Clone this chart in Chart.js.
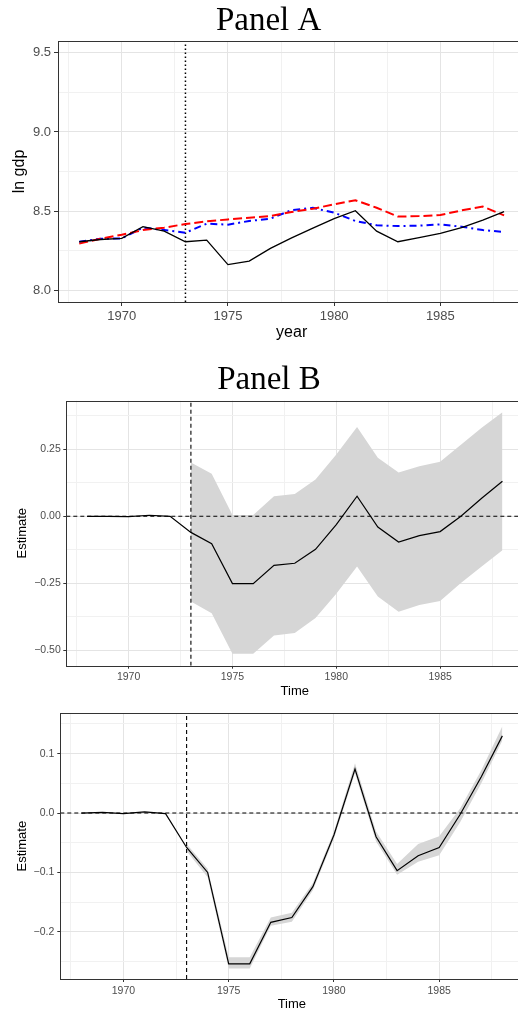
<!DOCTYPE html>
<html>
<head>
<meta charset="utf-8">
<script src="https://cdn.jsdelivr.net/npm/chart.js@4.4.1/dist/chart.umd.min.js"></script>
<style>
    body { margin: 0; background: #fff; width: 518px; height: 1015px; overflow: hidden; position: relative; }
    .panel { position: absolute; left: 0; width: 518px; overflow: hidden; }
    .panel canvas { display: block; }
</style>
</head>
<body>
<div class="panel" style="top:0;height:344px"><canvas id="panelA" width="540" height="344" style="width:540px;height:344px"></canvas></div>
<div class="panel" style="top:350px;height:350px"><canvas id="panelB" width="540" height="350" style="width:540px;height:350px"></canvas></div>
<div class="panel" style="top:700px;height:315px"><canvas id="panelC" width="540" height="315" style="width:540px;height:315px"></canvas></div>
<script>
// --- data ---
const years = [1968, 1969, 1970, 1971, 1972, 1973, 1974, 1975, 1976, 1977, 1978,
               1979, 1980, 1981, 1982, 1983, 1984, 1985, 1986, 1987, 1988];
const treatYear = 1973;

// panel A: ln gdp
const lnGdpActual  = [8.306, 8.320, 8.327, 8.401, 8.373, 8.306, 8.316, 8.161, 8.184, 8.264, 8.330,
                      8.392, 8.452, 8.502, 8.373, 8.306, 8.332, 8.359, 8.395, 8.443, 8.496];
const lnGdpSynthA  = [8.294, 8.325, 8.350, 8.380, 8.395, 8.418, 8.435, 8.447, 8.458, 8.468, 8.494,
                      8.515, 8.542, 8.568, 8.521, 8.465, 8.468, 8.475, 8.504, 8.528, 8.473];
const lnGdpSynthB  = [8.306, 8.325, 8.327, 8.395, 8.380, 8.363, 8.420, 8.414, 8.437, 8.452, 8.506,
                      8.520, 8.490, 8.437, 8.410, 8.405, 8.408, 8.416, 8.401, 8.380, 8.367];

// panel B: estimate with wide band (band from 1973)
const bandYears = [1973, 1974, 1975, 1976, 1977, 1978, 1979, 1980,
                   1981, 1982, 1983, 1984, 1985, 1986, 1987, 1988];
const estimateB = [0.000, 0.000, -0.001, 0.004, 0.000, -0.060, -0.102, -0.251, -0.251, -0.183, -0.175,
                   -0.123, -0.031, 0.075, -0.040, -0.096, -0.072, -0.057, 0.000, 0.067, 0.131];
const upperB = [0.201, 0.159, 0.005, 0.005, 0.075, 0.083, 0.137, 0.230,
                0.333, 0.218, 0.163, 0.187, 0.203, 0.267, 0.330, 0.388];
const lowerB = [-0.318, -0.361, -0.512, -0.512, -0.444, -0.435, -0.379, -0.289,
                -0.187, -0.299, -0.356, -0.331, -0.316, -0.249, -0.187, -0.127];

// panel C: estimate with narrow band
const estimateC = [0.000, 0.001, -0.001, 0.002, -0.001, -0.058, -0.100, -0.254, -0.254, -0.184, -0.176,
                   -0.124, -0.037, 0.074, -0.040, -0.097, -0.072, -0.058, -0.002, 0.061, 0.130];
const upperC = [-0.052, -0.094, -0.243, -0.243, -0.176, -0.168, -0.118, -0.031,
                0.084, -0.031, -0.086, -0.052, -0.039, 0.008, 0.072, 0.146];
const lowerC = [-0.064, -0.108, -0.262, -0.262, -0.190, -0.183, -0.130, -0.043,
                0.067, -0.048, -0.104, -0.082, -0.071, -0.015, 0.050, 0.122];

// ticks
const xMajorTicks = [1970, 1975, 1980, 1985];
const xMinorTicks = [1967.5, 1972.5, 1977.5, 1982.5, 1987.5];
const aMajorTicks = [8.0, 8.5, 9.0, 9.5];
const aTickLabels = ['8.0', '8.5', '9.0', '9.5'];
const aMinorTicks = [8.25, 8.75, 9.25];
const bMajorTicks = [-0.5, -0.25, 0, 0.25];
const bTickLabels = ['\u22120.50', '\u22120.25', '0.00', '0.25'];
const bMinorTicks = [-0.375, -0.125, 0.125, 0.375];
const cMajorTicks = [-0.2, -0.1, 0, 0.1];
const cTickLabels = ['\u22120.2', '\u22120.1', '0.0', '0.1'];
const cMinorTicks = [-0.25, -0.15, -0.05, 0.05, 0.15];

const xRange = [1967, 1989];
const aRange = [7.925, 9.575];
const bRange = [-0.557, 0.431];
const cRange = [-0.2795, 0.168];

const SANS = "'Liberation Sans', Arial, sans-serif";
const SERIF = "'Liberation Serif', 'DejaVu Serif', serif";
const FRAME = '#333333';

function pts(xs, ys) {
    return xs.map((x, i) => ({ x: x, y: ys[i] }));
}

// panel border on top of everything
const framePlugin = {
    id: 'frame',
    afterDraw(chart) {
        const a = chart.chartArea;
        const ctx = chart.ctx;
        ctx.save();
        ctx.strokeStyle = FRAME;
        ctx.lineWidth = 1;
        ctx.strokeRect(Math.round(a.left) + 0.5, Math.round(a.top) + 0.5,
                       Math.round(a.right - a.left), Math.round(a.bottom - a.top));
        ctx.restore();
    }
};

function makeAxis(cfg) {
    const all = cfg.major.concat(cfg.minor).sort((a, b) => a - b);
    const isMajor = v => cfg.major.some(m => Math.abs(m - v) < 1e-9);
    return {
        type: 'linear',
        position: cfg.position,
        min: cfg.range[0],
        max: cfg.range[1],
        afterBuildTicks: s => { s.ticks = all.map(v => ({ value: v })); },
        afterFit: s => {
            if (cfg.position === 'left') s.width = cfg.size; else s.height = cfg.size;
        },
        ticks: {
            autoSkip: false,
            maxRotation: 0,
            padding: cfg.tickPad,
            color: '#4d4d4d',
            font: { family: SANS, size: cfg.tickSize },
            callback: v => {
                const i = cfg.major.findIndex(m => Math.abs(m - v) < 1e-9);
                return i >= 0 ? cfg.labels[i] : '';
            }
        },
        grid: {
            color: ctx => isMajor(ctx.tick.value) ? '#e4e4e4' : '#f1f1f1',
            lineWidth: 1,
            tickColor: ctx => isMajor(ctx.tick.value) ? FRAME : 'rgba(0,0,0,0)',
            tickLength: cfg.tickLen,
            tickWidth: 1
        },
        border: { display: false },
        title: {
            display: true,
            text: cfg.title,
            color: '#000',
            font: { family: SANS, size: cfg.titleSize, lineHeight: cfg.titleLH || 1.2 },
            padding: cfg.titlePad
        }
    };
}

function refLines(yRange, dash, width) {
    return [
        {
            data: [{ x: treatYear, y: yRange[0] }, { x: treatYear, y: yRange[1] }],
            borderColor: '#000', borderWidth: width, borderDash: dash,
            pointRadius: 0, fill: false, order: 2
        },
        {
            data: [{ x: xRange[0], y: 0 }, { x: xRange[1], y: 0 }],
            borderColor: '#000', borderWidth: width, borderDash: dash,
            pointRadius: 0, fill: false, order: 2
        }
    ];
}

// Panel A
new Chart(document.getElementById('panelA'), {
    type: 'line',
    data: {
        datasets: [
            { data: pts(years, lnGdpActual), borderColor: '#000', borderWidth: 1.3, pointRadius: 0, order: 1 },
            { data: pts(years, lnGdpSynthA), borderColor: '#ff0000', borderWidth: 2, borderDash: [9, 4], pointRadius: 0, order: 2 },
            { data: pts(years, lnGdpSynthB), borderColor: '#0000ff', borderWidth: 2, borderDash: [7, 4, 2, 4], pointRadius: 0, order: 3 },
            {
                data: [{ x: treatYear, y: aRange[0] }, { x: treatYear, y: aRange[1] }],
                borderColor: '#000', borderWidth: 1.5, borderDash: [1.5, 2.5], pointRadius: 0, order: 4
            }
        ]
    },
    options: {
        responsive: false,
        animation: false,
        events: [],
        layout: { padding: { left: 12, right: 14.7, top: 0, bottom: 0 } },
        plugins: {
            legend: { display: false },
            tooltip: { enabled: false },
            title: {
                display: true, text: 'Panel A', color: '#000',
                font: { family: SERIF, size: 33, weight: 'normal', lineHeight: 1.2 },
                padding: { top: 1.2, bottom: 0.2 }
            }
        },
        scales: {
            x: makeAxis({ position: 'bottom', range: xRange, major: xMajorTicks, minor: xMinorTicks,
                          labels: xMajorTicks.map(String), size: 42, tickPad: 3, tickLen: 4, tickSize: 13,
                          title: 'year', titleSize: 16, titlePad: { top: 0, bottom: 1.4 } }),
            y: makeAxis({ position: 'left', range: aRange, major: aMajorTicks, minor: aMinorTicks,
                          labels: aTickLabels, size: 46, tickPad: 3, tickLen: 4, tickSize: 13,
                          title: 'ln gdp', titleSize: 16, titleLH: 1, titlePad: { top: 0, bottom: 0 } })
        }
    },
    plugins: [framePlugin]
});

function bandChart(id, opts) {
    return new Chart(document.getElementById(id), {
        type: 'line',
        data: {
            datasets: [
                { data: pts(bandYears, opts.lower), borderWidth: 0, borderColor: 'rgba(0,0,0,0)', pointRadius: 0, fill: false, order: 4 },
                { data: pts(bandYears, opts.upper), borderWidth: 0, borderColor: 'rgba(0,0,0,0)', pointRadius: 0,
                  fill: '-1', backgroundColor: '#d6d6d6', order: 3 },
                ...refLines(opts.range, [4, 3], 1.1),
                { data: pts(years, opts.estimate), borderColor: '#000', borderWidth: 1.2, pointRadius: 0, fill: false, order: 1 }
            ]
        },
        options: {
            responsive: false,
            animation: false,
            events: [],
            layout: { padding: opts.padding },
            plugins: {
                legend: { display: false },
                tooltip: { enabled: false },
                filler: { propagate: false },
                title: opts.title
            },
            scales: {
                x: makeAxis({ position: 'bottom', range: xRange, major: xMajorTicks, minor: xMinorTicks,
                              labels: xMajorTicks.map(String), size: opts.xSize, tickPad: 2.5, tickLen: 3, tickSize: 10.5,
                              title: 'Time', titleSize: 13, titlePad: { top: 0, bottom: opts.xTitlePad } }),
                y: makeAxis({ position: 'left', range: opts.range, major: opts.major, minor: opts.minor,
                              labels: opts.labels, size: opts.ySize, tickPad: opts.yTickPad, tickLen: 3, tickSize: 10.5,
                              title: 'Estimate', titleSize: 13, titlePad: { top: 0, bottom: 0 } })
            }
        },
        plugins: [framePlugin]
    });
}

// Panel B
bandChart('panelB', {
    lower: lowerB, upper: upperB, estimate: estimateB, range: bRange,
    major: bMajorTicks, minor: bMinorTicks, labels: bTickLabels,
    padding: { left: 14.8, right: 16.8, top: 0, bottom: 0 },
    xSize: 34.3, xTitlePad: 1.2, ySize: 51.5, yTickPad: 2.5,
    title: {
        display: true, text: 'Panel B', color: '#000',
        font: { family: SERIF, size: 33, weight: 'normal', lineHeight: 1.2 },
        padding: { top: 11, bottom: 0.1 }
    }
});

// Panel C
bandChart('panelC', {
    lower: lowerC, upper: upperC, estimate: estimateC, range: cRange,
    major: cMajorTicks, minor: cMinorTicks, labels: cTickLabels,
    padding: { left: 14.9, right: 16.6, top: 13.3, bottom: 0 },
    xSize: 36, xTitlePad: 3.2, ySize: 45.4, yTickPad: 3,
    title: { display: false }
});
</script>
</body>
</html>
